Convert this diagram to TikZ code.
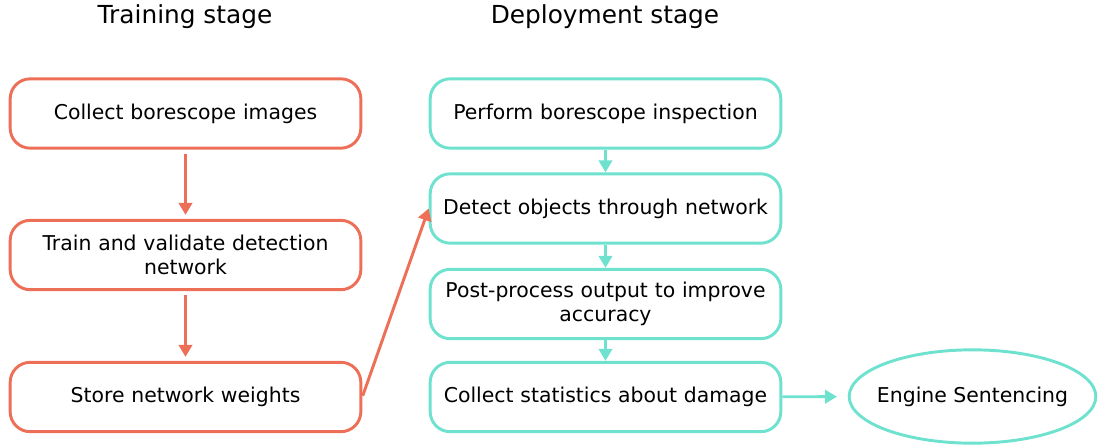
\documentclass[tikz,border=0pt]{standalone}
\usepackage{fontspec}
\setmainfont{DejaVu Sans}
\usetikzlibrary{arrows.meta,shapes.geometric}
\definecolor{trainred}{HTML}{EE6F57}
\definecolor{deploycyan}{HTML}{6EE2CF}

\tikzset{
  stagebox/.style={draw, line width=2.2pt, rounded corners=15pt, minimum width=263pt,
    minimum height=52pt, align=center, text width=250pt, font=\fontsize{15.3}{18}\selectfont},
  trainbox/.style={stagebox, draw=trainred},
  deploybox/.style={stagebox, draw=deploycyan},
  trainarrow/.style={draw=trainred, line width=2.2pt, -{Triangle[width=10pt,length=9pt]}},
  deployarrow/.style={draw=deploycyan, line width=2.2pt, -{Triangle[width=10pt,length=9pt]}},
  stagetitle/.style={font=\fontsize{18.6}{22}\selectfont}
}

\begin{document}
\begin{tikzpicture}[x=0.75pt,y=-0.75pt]
\useasboundingbox (0,0) rectangle (1098,446);

% titles
\node[stagetitle] (traintitle) at (185,17) {Training stage};
\node[stagetitle] (deploytitle) at (605,17) {Deployment stage};

% training stage
\node[trainbox] (collect) at (185.5,113.5) {Collect borescope images};
\node[trainbox] (train) at (185.5,255) {Train and validate detection\\network};
\node[trainbox] (store) at (185.5,397) {Store network weights};

% deployment stage
\node[deploybox] (inspect) at (605.5,113.5) {Perform borescope inspection};
\node[deploybox] (detect) at (605.5,208.5) {Detect objects through network};
\node[deploybox] (post) at (605.5,304) {Post-process output to improve\\accuracy};
\node[deploybox] (stats) at (605.5,397) {Collect statistics about damage};
\node[draw=deploycyan, line width=2.2pt, ellipse, inner xsep=-8pt, minimum width=185pt,
  minimum height=70pt, font=\fontsize{15.3}{18}\selectfont] (sentence) at (972.5,396.5) {Engine Sentencing};

% connectors
\draw[trainarrow, shorten <=3pt, shorten >=3pt] (collect) -- (train);
\draw[trainarrow, shorten <=3pt, shorten >=3pt] (train) -- (store);
\draw[trainarrow, shorten <=1pt] (store.east) -- (detect.west);
\draw[deployarrow] (inspect) -- (detect);
\draw[deployarrow] (detect) -- (post);
\draw[deployarrow] (post) -- (stats);
\draw[deployarrow, shorten >=8pt] (stats) -- (sentence);
\end{tikzpicture}
\end{document}
